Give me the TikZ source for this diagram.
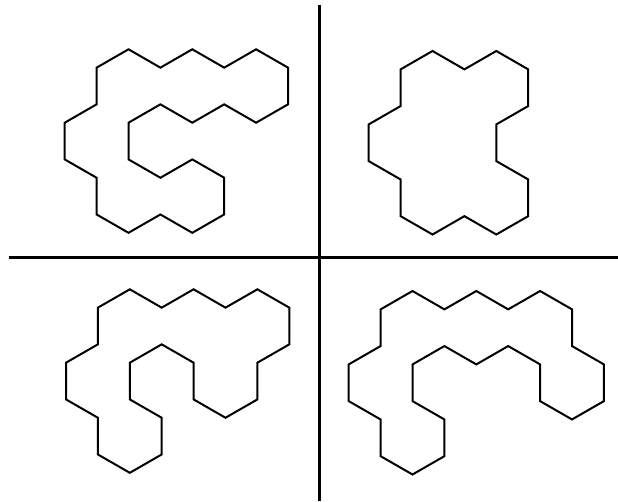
\documentclass[tikz,border=0pt]{standalone}
\tikzset{
  hexline/.style={line width=2pt, line join=miter},
  divider/.style={line width=2.6pt},
  hexgrid/.style={x=31.9pt, y=-18.35pt}
}
\begin{document}
\begin{tikzpicture}[x=1pt, y=-1pt]
    \useasboundingbox (0,0) rectangle (618,501);
    % Draw dividers
    \draw[divider] (319.3,5) -- (319.3,501);
    \draw[divider] (8.7,257.5) -- (618,257.5);

    % Top left polyhex
    \begin{scope}[shift={(64.7,49.3)}, hexgrid]
        \draw[hexline] (1,1) -- (2,0) -- (3,1) -- (4,0) -- (5,1) -- (6,0) -- (7,1) -- (7,3)
            -- (6,4) -- (5,3) -- (4,4) -- (3,3) -- (2,4) -- (2,6) -- (3,7) -- (4,6) -- (5,7)
            -- (5,9) -- (4,10) -- (3,9) -- (2,10) -- (1,9) -- (1,7) -- (0,6) -- (0,4) -- (1,3) -- cycle;
    \end{scope}

    % Top right polyhex
    \begin{scope}[shift={(368.7,51)}, hexgrid]
        \draw[hexline] (1,1) -- (2,0) -- (3,1) -- (4,0) -- (5,1) -- (5,3) -- (4,4) -- (4,6)
            -- (5,7) -- (5,9) -- (4,10) -- (3,9) -- (2,10) -- (1,9) -- (1,7) -- (0,6) -- (0,4)
            -- (1,3) -- cycle;
    \end{scope}

    % Bottom left polyhex
    \begin{scope}[shift={(66,289.3)}, hexgrid]
        \draw[hexline] (1,1) -- (2,0) -- (3,1) -- (4,0) -- (5,1) -- (6,0) -- (7,1) -- (7,3)
            -- (6,4) -- (6,6) -- (5,7) -- (4,6) -- (4,4) -- (3,3) -- (2,4) -- (2,6) -- (3,7)
            -- (3,9) -- (2,10) -- (1,9) -- (1,7) -- (0,6) -- (0,4) -- (1,3) -- cycle;
    \end{scope}

    % Bottom right polyhex
    \begin{scope}[shift={(348.7,291)}, hexgrid]
        \draw[hexline] (1,1) -- (2,0) -- (3,1) -- (4,0) -- (5,1) -- (6,0) -- (7,1) -- (7,3)
            -- (8,4) -- (8,6) -- (7,7) -- (6,6) -- (6,4) -- (5,3) -- (4,4) -- (3,3) -- (2,4)
            -- (2,6) -- (3,7) -- (3,9) -- (2,10) -- (1,9) -- (1,7) -- (0,6) -- (0,4) -- (1,3) -- cycle;
    \end{scope}
\end{tikzpicture}
\end{document}
